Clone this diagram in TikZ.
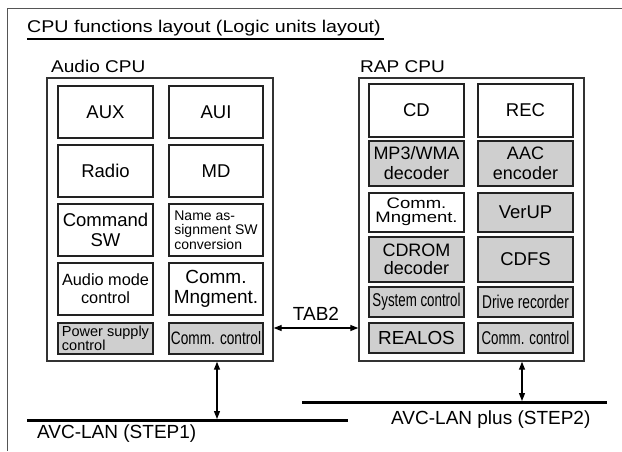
\documentclass[tikz,border=0pt]{standalone}
\usepackage{fontspec}
\usepackage{graphicx}
\setmainfont{Liberation Sans}
\usetikzlibrary{arrows.meta}

\definecolor{framegray}{HTML}{555555}
\definecolor{boxline}{HTML}{222222}
\definecolor{cpuline}{HTML}{333333}
\definecolor{unitgray}{HTML}{CFCFCF}

% box from corner (x1,y1) to corner (x2,y2), y measured downwards
\newcommand\fnunit[7]{%
  \pgfmathsetmacro\fnw{#5-#3}%
  \pgfmathsetmacro\fnh{#6-#4}%
  \node[#2, minimum width=\fnw pt, minimum height=\fnh pt] (#1)
    at ({(#3+#5)/2},{(#4+#6)/2}) {#7};}
\newcommand\narrow[2]{\scalebox{#1}[1]{#2}}

\tikzset{
  fnbox/.style={draw=boxline, line width=1.6pt, inner sep=0pt, align=center,
    font=\fontsize{18.5}{19.5}\selectfont},
  fngray/.style={fnbox, fill=unitgray},
  cpubox/.style={draw=cpuline, line width=1.4pt, inner sep=0pt},
  link/.style={line width=1.3pt, {Triangle[length=8pt,width=6pt]}-{Triangle[length=8pt,width=6pt]}},
  bus/.style={line width=3.2pt},
  lbl/.style={inner sep=0pt, anchor=base west, font=\fontsize{19}{20}\selectfont},
  headlbl/.style={inner sep=0pt, anchor=base west, font=\fontsize{17}{18}\selectfont},
}

\begin{document}
\begin{tikzpicture}[x=1pt, y=-1pt]
\useasboundingbox (0,0) rectangle (622,451);

% outer frame (top and left edges)
\draw[framegray, line width=1.4pt] (622,8.3) -- (7.3,8.3) -- (7.3,451);

% heading
\node[headlbl] (title) at (27,32.3) {\narrow{1.155}{CPU functions layout (Logic units layout)}};
\coordinate (ulA) at (27,39.3);
\coordinate (ulB) at (384,39.3);
\draw[line width=1.8pt] (ulA) -- (ulB);

% CPU enclosures
\node[headlbl] (audiolbl) at (51,72) {\narrow{1.12}{Audio CPU}};
\node[headlbl] (raplbl) at (360,72) {\narrow{1.12}{RAP CPU}};
\fnunit{audio}{cpubox}{47}{78}{273}{361}{}
\fnunit{rap}{cpubox}{359}{78}{584}{361}{}

% Audio CPU units
\fnunit{aux}{fnbox}{58}{86}{153}{138}{AUX}
\fnunit{aui}{fnbox}{169}{86}{263}{138}{AUI}
\fnunit{radio}{fnbox}{58}{145}{153}{197}{Radio}
\fnunit{md}{fnbox}{169}{145}{263}{197}{MD}
\fnunit{cmdsw}{fnbox, font=\fontsize{18.5}{20}\selectfont}{58}{204}{153}{256}{Command\\SW}
\fnunit{namesw}{fnbox, align=left, font=\fontsize{14}{14.5}\selectfont}{169}{204}{263}{256}{Name as-\\signment SW\\conversion}
\fnunit{amode}{fnbox, font=\fontsize{16.3}{18.3}\selectfont}{58}{263}{153}{315}{Audio mode\\control}
\fnunit{acommm}{fnbox, font=\fontsize{19}{20}\selectfont}{169}{263}{263}{315}{Comm.\\Mngment.}
\fnunit{power}{fngray, align=left, font=\fontsize{14.5}{11.7}\selectfont}{58}{323}{153}{354}{Power supply\\control}
\fnunit{acommc}{fngray, font=\fontsize{18}{19}\selectfont}{169}{323}{263}{354}{\narrow{0.76}{Comm. control}}

% RAP CPU units
\fnunit{cd}{fnbox}{369}{84}{464}{137}{CD}
\fnunit{rec}{fnbox}{478}{84}{573}{137}{REC}
\fnunit{mp3}{fngray, font=\fontsize{18}{20}\selectfont}{369}{141}{464}{186}{MP3/WMA\\decoder}
\fnunit{aac}{fngray, font=\fontsize{18}{20}\selectfont}{478}{141}{573}{186}{AAC\\encoder}
\fnunit{rcommm}{fnbox, font=\fontsize{18.5}{19}\selectfont}{369}{193}{464}{232}{\scalebox{1}[0.82]{\begin{tabular}{@{}c@{}}Comm.\\[-2pt]Mngment.\end{tabular}}}
\fnunit{verup}{fngray}{478}{193}{573}{232}{VerUP}
\fnunit{cdrom}{fngray, font=\fontsize{18}{18.3}\selectfont}{369}{237}{464}{282}{CDROM\\decoder}
\fnunit{cdfs}{fngray}{478}{237}{573}{282}{CDFS}
\fnunit{sysc}{fngray, font=\fontsize{18.5}{19}\selectfont}{369}{287}{464}{317}{\narrow{0.72}{System control}}
\fnunit{drive}{fngray, font=\fontsize{18.5}{19}\selectfont}{478}{287}{573}{317}{\narrow{0.74}{Drive recorder}}
\fnunit{realos}{fngray, font=\fontsize{18.9}{19}\selectfont}{369}{323}{464}{353}{REALOS}
\fnunit{rcommc}{fngray, font=\fontsize{18.5}{19}\selectfont}{478}{323}{573}{353}{\narrow{0.72}{Comm. control}}

% TAB2 link between the two CPUs
\coordinate (tabY) at (0,328);
\draw[link] (audio.east |- tabY) -- (rap.west |- tabY);
\node[lbl, anchor=base] (tab2) at (316,320) {TAB2};

% AVC-LAN buses
\coordinate (busAw) at (27,420.8);
\coordinate (busAe) at (348,420.8);
\coordinate (busBw) at (302,402.7);
\coordinate (busBe) at (607,402.7);
\draw[bus] (busAw) -- (busAe);
\draw[bus] (busBw) -- (busBe);
\node[lbl] (step1) at (37,438) {AVC-LAN (STEP1)};
\node[lbl] (step2) at (391,424) {AVC-LAN plus (STEP2)};

% CPU to bus links
\coordinate (tapA) at (217,419);
\coordinate (tapB) at (522,401);
\draw[link] (audio.south -| tapA) -- (tapA);
\draw[link] (rap.south -| tapB) -- (tapB);
\end{tikzpicture}
\end{document}
